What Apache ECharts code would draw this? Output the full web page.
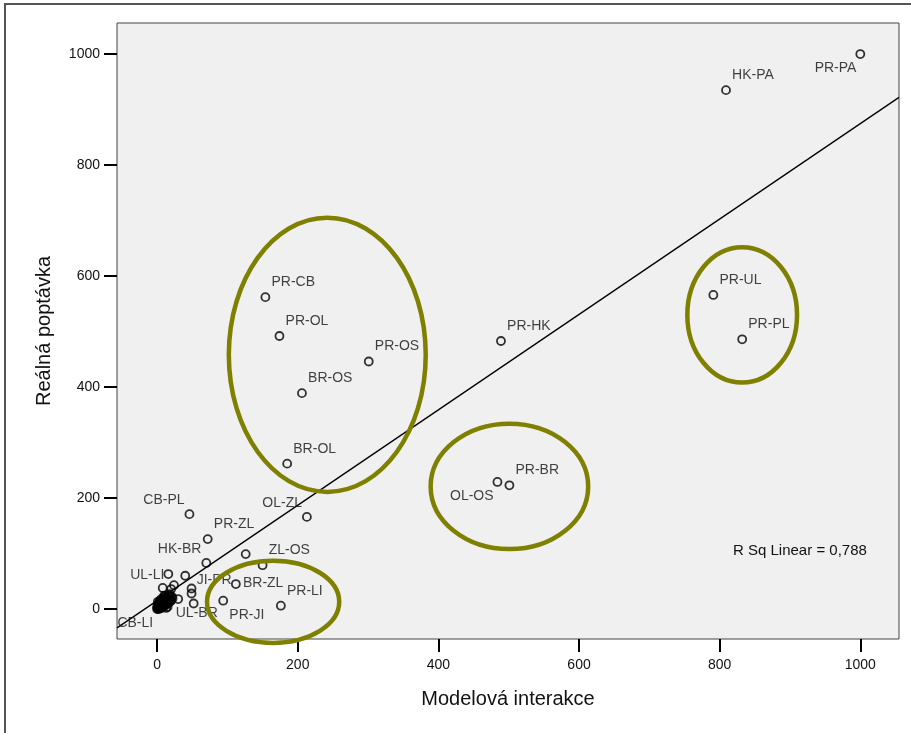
<!DOCTYPE html>
<html>
<head>
<meta charset="utf-8">
<script src="https://cdn.jsdelivr.net/npm/echarts@6/dist/echarts.min.js"></script>
<style>
  html, body { margin: 0; padding: 0; background: #fff; }
  #chart { width: 911px; height: 733px; }
</style>
</head>
<body>
<div id="chart"></div>
<script>
// labelled pairs (model interaction, real demand)
const pairNames = ['PR-PA', 'HK-PA', 'PR-UL', 'PR-PL', 'PR-HK', 'PR-BR', 'OL-OS', 'PR-CB', 'PR-OL', 'PR-OS',
  'BR-OS', 'BR-OL', 'CB-PL', 'OL-ZL', 'PR-ZL', 'HK-BR', 'ZL-OS', 'UL-LI', 'JI-PR', 'BR-ZL',
  'PR-LI', 'PR-JI', 'UL-BR', 'CB-LI'];
const pairModel = [1000, 809, 791, 832, 489, 501, 484, 154, 174, 301,
  206, 185, 46, 213, 72, 70, 150, 16, 49, 112,
  176, 94, 52, 0];
const pairReal = [1000, 935, 566, 486, 483, 223, 229, 562, 492, 446,
  389, 262, 171, 166, 126, 83, 79, 63, 37, 45,
  6, 15, 10, 0];

// unlabelled pairs, mostly the crowd near the origin
const otherModel = [126, 40, 49, 8, 20, 24, 30,
  1, 2, 1, 3, 4, 2, 5, 6, 3, 7, 8, 5, 9, 10, 6, 11, 12, 8, 13, 14, 10, 15, 16, 12, 17, 18, 14, 19, 20, 11, 16, 9, 4, 7, 3, 15, 13, 0, 2,
  21, 18, 22, 6, 1, 10];
const otherReal = [99, 60, 28, 38, 36, 43, 18,
  1, 0, 3, 2, 1, 5, 4, 2, 7, 6, 3, 9, 8, 5, 12, 10, 7, 14, 12, 9, 17, 14, 11, 19, 16, 13, 21, 18, 15, 23, 25, 20, 15, 10, 11, 4, 2, 4, 9,
  22, 27, 19, 18, 13, 24];

// linear fit, read at both ends of the x range
const fitX = [-57, 1055];
const fitY = [-34, 922];
const rSquared = '0,788';

// hand drawn ellipses: centre x, centre y, half width, half height (data units)
const ellipseCx = [242, 832, 501, 165];
const ellipseCy = [458, 530, 221, 13];
const ellipseRx = [140, 78, 112, 94];
const ellipseRy = [247, 122, 113, 74];

const xTicks = [0, 200, 400, 600, 800, 1000];
const yTicks = [0, 200, 400, 600, 800, 1000];

const FONT = '"Liberation Sans", Arial, sans-serif';

// where each label sits next to its circle
const labelSide = {
  'PR-PA': 'bl', 'OL-OS': 'bl', 'CB-LI': 'bl',
  'CB-PL': 'tl', 'OL-ZL': 'tl', 'HK-BR': 'tl',
  'UL-LI': 'l', 'BR-ZL': 'r', 'PR-JI': 'br', 'UL-BR': 'b', 'JI-PR': 'rt'
};
const sidePos = {
  tr: { position: [11, -10], align: 'left' },
  rt: { position: [10, -3], align: 'left' },
  tl: { position: [0, -9], align: 'right' },
  bl: { position: [1, 19], align: 'right' },
  l:  { position: [1, 6], align: 'right' },
  r:  { position: [12, 4], align: 'left' },
  br: { position: [11, 19], align: 'left' },
  b:  { position: [8, 15], align: 'center' }
};

const labelled = pairNames.map((name, i) => {
  const s = sidePos[labelSide[name] || 'tr'];
  return {
    name: name,
    value: [pairModel[i], pairReal[i]],
    label: { position: s.position, align: s.align }
  };
});
const others = otherModel.map((x, i) => [x, otherReal[i]]);
const ellipses = ellipseCx.map((cx, i) => [cx, ellipseCy[i], ellipseRx[i], ellipseRy[i]]);

const myChart = echarts.init(document.getElementById('chart'));
myChart.setOption({
  animation: false,
  backgroundColor: '#fff',
  grid: {
    left: 117, top: 23, right: 12, bottom: 94,
    show: true,
    backgroundColor: '#f0f0f0',
    borderColor: '#444',
    borderWidth: 1
  },
  xAxis: {
    type: 'value',
    min: -57,
    max: 1055,
    name: 'Modelová interakce',
    nameLocation: 'middle',
    nameGap: 50,
    nameTextStyle: { fontFamily: FONT, fontSize: 20, color: '#111' },
    axisLine: { show: false, onZero: false },
    splitLine: { show: false },
    axisTick: { customValues: xTicks, length: 13, lineStyle: { color: '#000', width: 2 } },
    axisLabel: {
      customValues: xTicks, margin: 19, fontFamily: FONT, fontSize: 14, color: '#111',
      formatter: v => String(v)
    }
  },
  yAxis: {
    type: 'value',
    min: -54,
    max: 1056,
    name: 'Reálná poptávka',
    nameLocation: 'middle',
    nameGap: 63,
    nameTextStyle: { fontFamily: FONT, fontSize: 20, color: '#111' },
    axisLine: { show: false, onZero: false },
    splitLine: { show: false },
    axisTick: { customValues: yTicks, length: 13, lineStyle: { color: '#000', width: 2 } },
    axisLabel: {
      customValues: yTicks, margin: 17, fontFamily: FONT, fontSize: 14, color: '#111',
      formatter: v => String(v)
    }
  },
  graphic: [
    {
      type: 'rect',
      shape: { x: 5, y: 4, width: 1000, height: 1000 },
      style: { fill: 'none', stroke: '#555', lineWidth: 2 },
      silent: true
    },
    {
      type: 'text',
      left: 733,
      top: 543,
      style: { text: 'R Sq Linear = ' + rSquared, font: '15px ' + FONT, fill: '#111' }
    }
  ],
  series: [
    {
      type: 'line',
      data: fitX.map((x, i) => [x, fitY[i]]),
      symbol: 'none',
      lineStyle: { color: '#000', width: 1.3 },
      z: 2
    },
    {
      type: 'scatter',
      data: others,
      symbol: 'circle',
      symbolSize: 8,
      itemStyle: { color: 'transparent', borderColor: '#000', borderWidth: 1.8 },
      z: 3
    },
    {
      type: 'scatter',
      data: labelled,
      symbol: 'circle',
      symbolSize: 8,
      itemStyle: { color: 'transparent', borderColor: '#000', borderWidth: 1.8 },
      label: {
        show: true,
        formatter: '{b}',
        verticalAlign: 'middle',
        fontFamily: FONT,
        fontSize: 14,
        color: '#111'
      },
      z: 4
    },
    {
      type: 'custom',
      data: ellipses,
      clip: false,
      silent: true,
      z: 5,
      renderItem: function (params, api) {
        const c = api.coord([api.value(0), api.value(1)]);
        const e = api.coord([api.value(0) + api.value(2), api.value(1) + api.value(3)]);
        return {
          type: 'ellipse',
          shape: { cx: c[0], cy: c[1], rx: e[0] - c[0], ry: c[1] - e[1] },
          style: { fill: 'none', stroke: '#7f7f00', lineWidth: 4.5 }
        };
      }
    }
  ]
});
</script>
</body>
</html>
